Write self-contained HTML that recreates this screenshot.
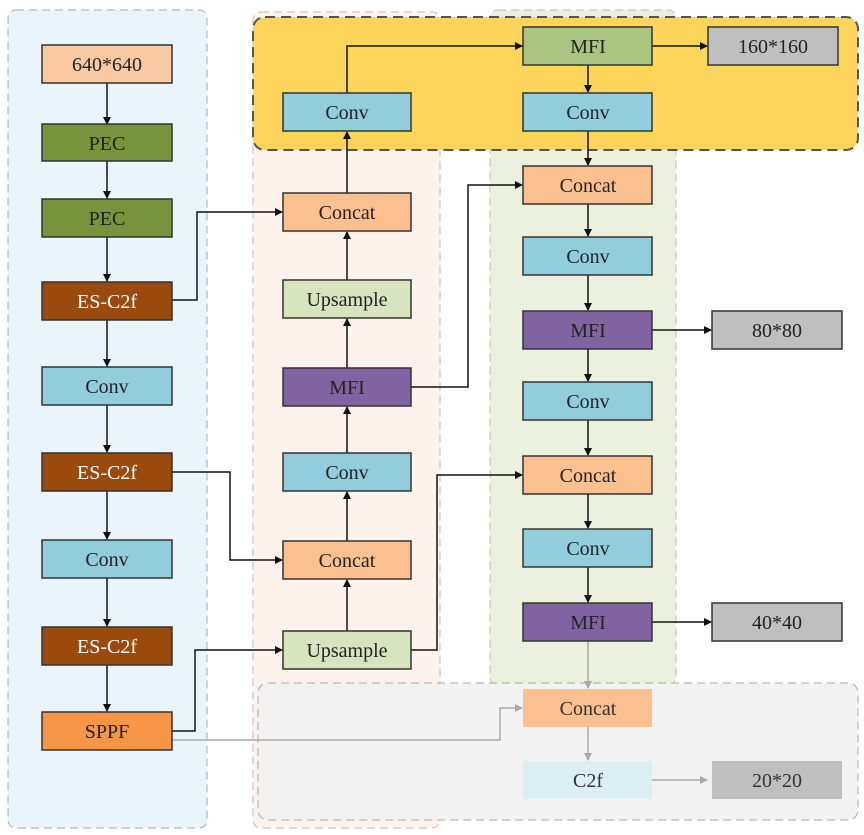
<!DOCTYPE html><html><head><style>body{margin:0;background:#fff}</style></head><body>
<svg width="864" height="830" xmlns="http://www.w3.org/2000/svg" font-family="Liberation Serif, serif" font-size="20">
<defs>
<marker id="a" markerWidth="8" markerHeight="8" refX="7" refY="4" orient="auto" markerUnits="userSpaceOnUse"><path d="M0,0L8,4L0,8z" fill="#111"/></marker>
<marker id="g" markerWidth="8" markerHeight="8" refX="7" refY="4" orient="auto" markerUnits="userSpaceOnUse"><path d="M0,0L8,4L0,8z" fill="#aaa"/></marker>
</defs>
<rect x="8" y="10" width="199" height="818" rx="8" fill="#eaf4fb" stroke="#aaa" stroke-dasharray="8,5"/>
<rect x="253" y="12" width="187" height="816" rx="8" fill="#fdf3ec" stroke="#bbb" stroke-dasharray="8,5"/>
<rect x="490" y="10" width="186" height="675" rx="8" fill="#ebf1de" stroke="#bbb" stroke-dasharray="8,5"/>
<rect x="258" y="683" width="600" height="137" rx="10" fill="#f2f2f2" stroke="#aaa" stroke-dasharray="8,5"/>
<rect x="253" y="17" width="605" height="133" rx="12" fill="#fcd55a" stroke="#555" stroke-width="2" stroke-dasharray="10,6"/>
<g stroke="#111" stroke-width="1.5" fill="none" marker-end="url(#a)">
<line x1="107" y1="83" x2="107" y2="124"/><line x1="107" y1="161" x2="107" y2="198"/><line x1="107" y1="237" x2="107" y2="281"/><line x1="107" y1="320" x2="107" y2="366"/><line x1="107" y1="405" x2="107" y2="452"/><line x1="107" y1="491" x2="107" y2="539"/><line x1="107" y1="578" x2="107" y2="626"/><line x1="107" y1="665" x2="107" y2="711"/>
<polyline points="172,300 197,300 197,212 282,212"/>
<polyline points="172,472 230,472 230,560 282,560"/>
<polyline points="172,731 195,731 195,650 282,650"/>
<line x1="347" y1="631" x2="347" y2="580"/><line x1="347" y1="541" x2="347" y2="492"/><line x1="347" y1="453" x2="347" y2="407"/><line x1="347" y1="368" x2="347" y2="319"/><line x1="347" y1="280" x2="347" y2="232"/><line x1="347" y1="193" x2="347" y2="132"/>
<polyline points="347,93 347,46 522,46"/>
<polyline points="411,387 468,387 468,185 522,185"/>
<polyline points="411,650 437,650 437,475 522,475"/>
<line x1="588" y1="65" x2="588" y2="92"/><line x1="588" y1="131" x2="588" y2="165"/><line x1="588" y1="204" x2="588" y2="236"/><line x1="588" y1="275" x2="588" y2="310"/><line x1="588" y1="349" x2="588" y2="381"/><line x1="588" y1="420" x2="588" y2="455"/><line x1="588" y1="494" x2="588" y2="528"/><line x1="588" y1="567" x2="588" y2="602"/>
<line x1="652" y1="46" x2="707" y2="46"/><line x1="652" y1="330" x2="711" y2="330"/><line x1="652" y1="622" x2="711" y2="622"/>
</g>
<g stroke="#aaa" stroke-width="1.5" fill="none" marker-end="url(#g)">
<polyline points="172,740 500,740 500,708 522,708"/>
<line x1="588" y1="641" x2="588" y2="688"/><line x1="588" y1="727" x2="588" y2="760"/><line x1="652" y1="780" x2="707" y2="780"/>
</g>
<g stroke="#333" stroke-width="1.5" text-anchor="middle">
<rect x="42" y="45" width="130" height="38" fill="#f9c9a4"/><text x="107" y="71" stroke="none" fill="#222">640*640</text>
<rect x="42" y="124" width="130" height="37" fill="#77933c"/><text x="107" y="150" stroke="none" fill="#222">PEC</text>
<rect x="42" y="199" width="130" height="38" fill="#77933c"/><text x="107" y="225" stroke="none" fill="#222">PEC</text>
<rect x="42" y="282" width="130" height="38" fill="#9b4a0e"/><text x="107" y="308" stroke="none" fill="#fff">ES-C2f</text>
<rect x="42" y="367" width="130" height="38" fill="#92cddc"/><text x="107" y="393" stroke="none" fill="#222">Conv</text>
<rect x="42" y="453" width="130" height="38" fill="#9b4a0e"/><text x="107" y="479" stroke="none" fill="#fff">ES-C2f</text>
<rect x="42" y="540" width="130" height="38" fill="#92cddc"/><text x="107" y="566" stroke="none" fill="#222">Conv</text>
<rect x="42" y="627" width="130" height="38" fill="#9b4a0e"/><text x="107" y="653" stroke="none" fill="#fff">ES-C2f</text>
<rect x="42" y="712" width="130" height="38" fill="#f79646"/><text x="107" y="738" stroke="none" fill="#222">SPPF</text>
<rect x="283" y="93" width="128" height="38" fill="#92cddc"/><text x="347" y="119" stroke="none" fill="#222">Conv</text>
<rect x="283" y="193" width="128" height="38" fill="#fac090"/><text x="347" y="219" stroke="none" fill="#222">Concat</text>
<rect x="283" y="280" width="128" height="38" fill="#d7e4bd"/><text x="347" y="306" stroke="none" fill="#222">Upsample</text>
<rect x="283" y="368" width="128" height="38" fill="#8064a2"/><text x="347" y="394" stroke="none" fill="#222">MFI</text>
<rect x="283" y="453" width="128" height="38" fill="#92cddc"/><text x="347" y="479" stroke="none" fill="#222">Conv</text>
<rect x="283" y="541" width="128" height="38" fill="#fac090"/><text x="347" y="567" stroke="none" fill="#222">Concat</text>
<rect x="283" y="631" width="128" height="38" fill="#d7e4bd"/><text x="347" y="657" stroke="none" fill="#222">Upsample</text>
<rect x="523" y="27" width="129" height="38" fill="#a9c47f"/><text x="588" y="53" stroke="none" fill="#222">MFI</text>
<rect x="523" y="93" width="129" height="38" fill="#92cddc"/><text x="588" y="119" stroke="none" fill="#222">Conv</text>
<rect x="523" y="166" width="129" height="38" fill="#fac090"/><text x="588" y="192" stroke="none" fill="#222">Concat</text>
<rect x="523" y="237" width="129" height="38" fill="#92cddc"/><text x="588" y="263" stroke="none" fill="#222">Conv</text>
<rect x="523" y="311" width="129" height="38" fill="#8064a2"/><text x="588" y="337" stroke="none" fill="#222">MFI</text>
<rect x="523" y="382" width="129" height="38" fill="#92cddc"/><text x="588" y="408" stroke="none" fill="#222">Conv</text>
<rect x="523" y="456" width="129" height="38" fill="#fac090"/><text x="588" y="482" stroke="none" fill="#222">Concat</text>
<rect x="523" y="529" width="129" height="38" fill="#92cddc"/><text x="588" y="555" stroke="none" fill="#222">Conv</text>
<rect x="523" y="603" width="129" height="38" fill="#8064a2"/><text x="588" y="629" stroke="none" fill="#222">MFI</text>
<rect x="708" y="27" width="130" height="38" fill="#bfbfbf"/><text x="773" y="53" stroke="none" fill="#222">160*160</text>
<rect x="712" y="311" width="130" height="38" fill="#bfbfbf"/><text x="777" y="337" stroke="none" fill="#222">80*80</text>
<rect x="712" y="603" width="130" height="38" fill="#bfbfbf"/><text x="777" y="629" stroke="none" fill="#222">40*40</text>
<rect x="523" y="689" width="129" height="38" fill="#fac090" stroke="none"/><text x="588" y="715" stroke="none" fill="#333">Concat</text>
<rect x="523" y="761" width="129" height="38" fill="#dbeef4" stroke="none"/><text x="588" y="787" stroke="none" fill="#333">C2f</text>
<rect x="712" y="761" width="130" height="38" fill="#bfbfbf" stroke="none"/><text x="777" y="787" stroke="none" fill="#333">20*20</text>
</g>
</svg>
</body></html>
